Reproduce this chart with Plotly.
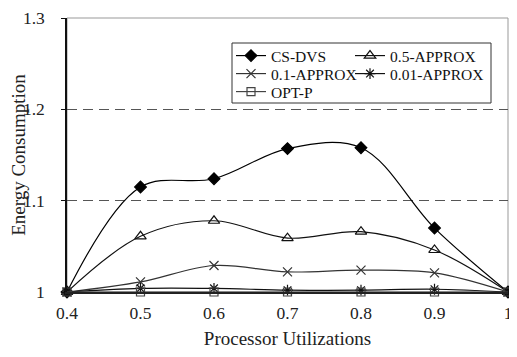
import plotly.graph_objects as go

utilization = [0.4, 0.5, 0.6, 0.7, 0.8, 0.9, 1.0]
cs_dvs      = [1.0, 1.115, 1.124, 1.157, 1.158, 1.070, 1.0]
approx_05   = [1.0, 1.061, 1.078, 1.059, 1.066, 1.046, 1.0]
approx_01   = [1.0, 1.011, 1.029, 1.022, 1.024, 1.021, 1.0]
approx_001  = [1.0, 1.004, 1.004, 1.002, 1.002, 1.003, 1.0]
opt_p       = [1.0, 1.0, 1.0, 1.0, 1.0, 1.0, 1.0]

x_ticks = [0.4, 0.5, 0.6, 0.7, 0.8, 0.9, 1.0]
x_labels = ["0.4", "0.5", "0.6", "0.7", "0.8", "0.9", "1"]
y_ticks = [1.0, 1.1, 1.2, 1.3]
y_labels = ["1", "1.1", "1.2", "1.3"]

FONT = "Liberation Serif, Times New Roman, serif"

# (name, values, symbol, size, colour, legend row, legend entry width)
series = [
    ("CS-DVS", cs_dvs, "diamond", 9, "#000000", "legend", 74),
    ("0.5-APPROX", approx_05, "triangle-up-open", 10, "#111111", "legend", 100),
    ("0.1-APPROX", approx_01, "x-thin-open", 9, "#333333", "legend2", 74),
    ("0.01-APPROX", approx_001, "asterisk-open", 9, "#111111", "legend2", 100),
    ("OPT-P", opt_p, "square-open", 8, "#444444", "legend3", 74),
]

fig = go.Figure()
for name, vals, sym, size, col, leg, lw in series:
    fig.add_trace(go.Scatter(
        x=utilization, y=vals, name=name, mode="lines+markers",
        line=dict(color=col, width=1.2, shape="spline", smoothing=1.0),
        marker=dict(symbol=sym, size=size, color=col,
                    line=dict(color=col, width=1.2)),
        legend=leg, legendwidth=lw, cliponaxis=False,
    ))

# page has an 8px body margin; keep the figure inside the 517x357 window
W, H = 509, 341
L, R, T, B = 59, 9, 10, 57
PW, PH = W - L - R, H - T - B


def px_x(fx):
    return (fx - L) / PW


def px_y(fy):
    return 1 - (fy - T) / PH


leg_common = dict(orientation="h", xanchor="left", yanchor="top",
                  bgcolor="rgba(0,0,0,0)", borderwidth=0,
                  font=dict(family=FONT, size=15.5, color="#111111"),
                  itemwidth=30, tracegroupgap=0)

fig.update_layout(
    width=W, height=H,
    margin=dict(l=L, r=R, t=T, b=B, autoexpand=False),
    paper_bgcolor="white", plot_bgcolor="white",
    font=dict(family=FONT, size=17.5, color="#222222"),
    showlegend=True,
    legend=dict(leg_common, x=px_x(223), y=px_y(31)),
    legend2=dict(leg_common, x=px_x(223), y=px_y(49)),
    legend3=dict(leg_common, x=px_x(223), y=px_y(67)),
    shapes=[
        dict(type="rect", xref="paper", yref="paper", x0=0, x1=1, y0=0, y1=1,
             line=dict(color="#999999", width=1), layer="below"),
        dict(type="rect", xref="paper", yref="paper",
             x0=px_x(224), x1=px_x(483), y0=px_y(95), y1=px_y(35),
             line=dict(color="#333333", width=1), fillcolor="rgba(0,0,0,0)",
             layer="above"),
    ],
)

fig.update_xaxes(
    range=[0.4, 1.0], tickvals=x_ticks, ticktext=x_labels,
    automargin=False,
    showline=True, linecolor="#222222", linewidth=2,
    showgrid=False, zeroline=False, ticks="",
    ticklabelstandoff=4, ticklabeloverflow="allow",
    tickfont=dict(family=FONT, size=17.5, color="#222222"),
    title=dict(text="Processor Utilizations", standoff=13,
               font=dict(family=FONT, size=19, color="#222222")),
)
fig.update_yaxes(
    range=[1.0, 1.3], tickvals=y_ticks, ticktext=y_labels,
    automargin=False,
    showline=True, linecolor="#111111", linewidth=1.5,
    showgrid=True, gridcolor="#555555", gridwidth=1, griddash="10px,6px",
    zeroline=False, ticks="outside", ticklen=4, tickcolor="#111111",
    ticklabelstandoff=13, ticklabeloverflow="allow",
    tickfont=dict(family=FONT, size=17.5, color="#222222"),
    title=dict(text="Energy Consumption", standoff=4,
               font=dict(family=FONT, size=19, color="#222222")),
)

fig.write_html("out.html")
